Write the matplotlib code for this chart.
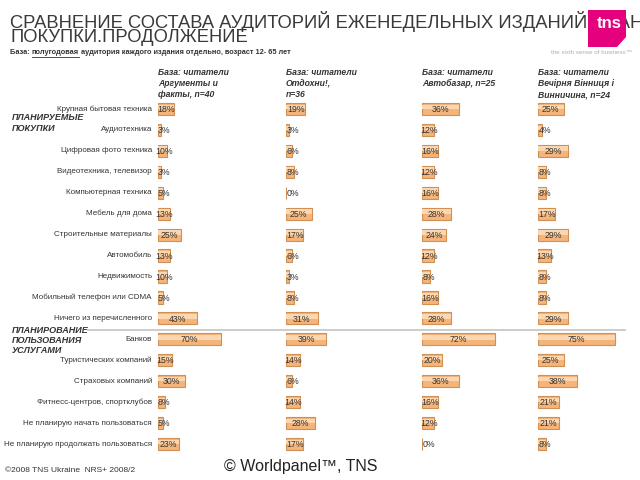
import matplotlib
matplotlib.use('Agg')
from matplotlib import pyplot as plt
from matplotlib.patches import Polygon
from matplotlib.lines import Line2D

plt.rcParams['font.family'] = ['Liberation Sans', 'DejaVu Sans']

categories = [
    'Крупная бытовая техника', 'Аудиотехника', 'Цифровая фото техника',
    'Видеотехника, телевизор', 'Компьютерная техника', 'Мебель для дома',
    'Строительные материалы', 'Автомобиль', 'Недвижимость',
    'Мобильный телефон или CDMA', 'Ничего из перечисленного',
    'Банков', 'Туристических компаний', 'Страховых компаний',
    'Фитнесс-центров, спортклубов', 'Не планирую начать пользоваться',
    'Не планирую продолжать пользоваться',
]
headers = [
    'База: читатели\nАргументы и\nфакты, n=40',
    'База: читатели\nОтдохни!,\nn=36',
    'База: читатели\nАвтобазар, n=25',
    'База: читатели\nВечірня Вінниця і\nВинничина, n=24',
]
aif = [18, 3, 10, 3, 5, 13, 25, 13, 10, 5, 43, 70, 15, 30, 8, 5, 23]
otdohni = [19, 3, 6, 8, 0, 25, 17, 6, 3, 8, 31, 39, 14, 6, 14, 28, 17]
avtobazar = [36, 12, 16, 12, 16, 28, 24, 12, 8, 16, 28, 72, 20, 36, 16, 12, 0]
vinnytsia = [25, 4, 29, 8, 8, 17, 29, 13, 8, 8, 29, 75, 25, 38, 21, 21, 8]
series = [aif, otdohni, avtobazar, vinnytsia]

W, H = 640, 480
fig = plt.figure(figsize=(6.4, 4.8), dpi=100)


def fx(x):
    return x / W


def fy(y):
    return 1 - y / H


dark = '#333333'

# title
fig.text(fx(10), fy(22), 'СРАВНЕНИЕ СОСТАВА АУДИТОРИЙ ЕЖЕНЕДЕЛЬНЫХ ИЗДАНИЙ ПЛАНИРУЕМЫЕ',
         fontsize=13.2, color='#3a3a3a', va='center', ha='left')
fig.text(fx(10), fy(38), 'ПОКУПКИ.ПРОДОЛЖЕНИЕ',
         fontsize=13.2, color='#3a3a3a', va='center', ha='left')

# subtitle with underlined word
sub_parts = ['База: ', 'полугодовая', ' аудитория каждого издания отдельно, возраст 12- 65 лет']
fig.canvas.draw()
renderer = fig.canvas.get_renderer()
xpos = 10
for i, part in enumerate(sub_parts):
    t = fig.text(fx(xpos), fy(53), part, fontsize=5.3, fontweight='bold',
                 color=dark, va='center', ha='left')
    bb = t.get_window_extent(renderer=renderer)
    if i == 1:
        fig.add_artist(Line2D([fx(xpos), fx(xpos + bb.width)], [fy(57), fy(57)],
                              color=dark, lw=0.6, transform=fig.transFigure))
    xpos += bb.width

# tns logo
logo = Polygon([(fx(588), fy(10)), (fx(626), fy(10)), (fx(626), fy(37)),
                (fx(617), fy(47)), (fx(588), fy(47))],
               closed=True, facecolor='#E5007D', edgecolor='none',
               transform=fig.transFigure, zorder=5)
fig.add_artist(logo)
fig.text(fx(609), fy(24), 'tns', fontsize=12, fontweight='bold', color='white',
         ha='center', va='center', zorder=6)
fig.text(fx(632), fy(53), 'the sixth sense of business\u2122', fontsize=4.5,
         color='#b0b0b0', ha='right', va='center')

# layout of bar columns (pixels)
col_x = [158, 286, 422, 538]
col_w = [90, 102, 102, 102]
top, bottom = 98.5, 454.5
n = len(categories)
row_h = (bottom - top) / n

for j, vals in enumerate(series):
    ax = fig.add_axes([fx(col_x[j]), fy(bottom), col_w[j] / W, (bottom - top) / H])
    ax.set_xlim(0, 100)
    ax.set_ylim(n - 0.5, -0.5)
    ax.axis('off')
    ys = list(range(n))
    ax.barh(ys, vals, height=0.58, color='#F5B57A', edgecolor='#CF9055', linewidth=0.8)
    ax.barh([y - 0.1 for y in ys], vals, height=0.22, color='#FBD6AE', edgecolor='none')
    for y, v in zip(ys, vals):
        ax.text(max(v / 2, 6.5), y + 0.03, f'{v}%', fontsize=6.3, color=dark,
                ha='center', va='center')
    fig.text(fx(col_x[j]), fy(68), headers[j], fontsize=6.2, fontweight='bold',
             fontstyle='italic', color=dark, ha='left', va='top', linespacing=1.3)

# category labels
for i, cat in enumerate(categories):
    fig.text(fx(152), fy(top + (i + 0.5) * row_h), cat, fontsize=5.8, color=dark,
             ha='right', va='center')

# section labels
fig.text(fx(12), fy(113), 'ПЛАНИРУЕМЫЕ\nПОКУПКИ', fontsize=6.5, fontweight='bold',
         fontstyle='italic', color=dark, ha='left', va='top', linespacing=1.3)
fig.text(fx(12), fy(326), 'ПЛАНИРОВАНИЕ\nПОЛЬЗОВАНИЯ\nУСЛУГАМИ', fontsize=6.5,
         fontweight='bold', fontstyle='italic', color=dark, ha='left', va='top',
         linespacing=1.15)

# separator
fig.add_artist(Line2D([fx(88), fx(625)], [fy(330), fy(330)], color='#c4c4c4', lw=1.2,
                      transform=fig.transFigure))

# footer
fig.text(fx(5), fy(470), '©2008 TNS Ukraine  NRS+ 2008/2', fontsize=6, color=dark,
         ha='left', va='center')
fig.text(fx(301), fy(466), '© Worldpanel™, TNS', fontsize=11.5, color='#222222',
         ha='center', va='center')

fig.savefig('out.png', dpi=100, facecolor='white')
